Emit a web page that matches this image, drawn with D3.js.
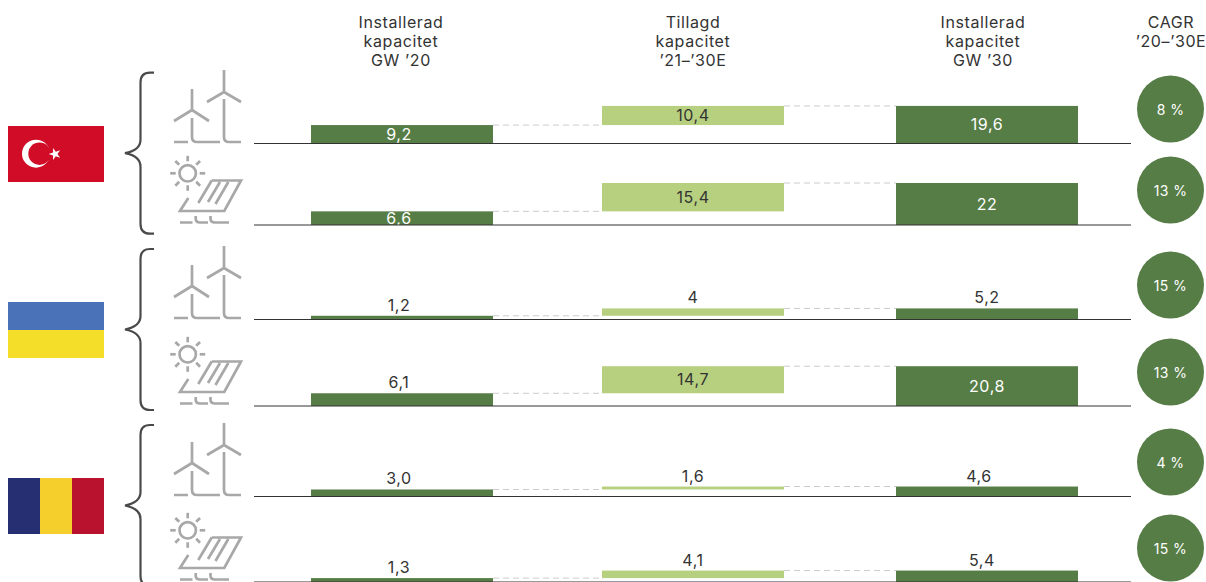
<!DOCTYPE html>
<html>
<head>
<meta charset="utf-8">
<script src="https://cdn.jsdelivr.net/npm/d3@7"></script>
<style>
	html, body { margin: 0; padding: 0; background: #fff; overflow: hidden; }
	svg { display: block; }
	text { font-family: Inter, sans-serif; font-size: 16px; letter-spacing: 0.6px; fill: #333; }
</style>
</head>
<body>
<svg width="1206" height="582"></svg>
<script>
	var countries = ["Turkiet", "Ukraina", "Rumänien"];
	var energy = ["wind", "solar", "wind", "solar", "wind", "solar"];

	var installed20 = [9.2, 6.6, 1.2, 6.1, 3.0, 1.3];
	var added = [10.4, 15.4, 4, 14.7, 1.6, 4.1];
	var installed30 = [19.6, 22, 5.2, 20.8, 4.6, 5.4];
	var cagr = ["8 %", "13 %", "15 %", "13 %", "4 %", "15 %"];

	var label20 = ["9,2", "6,6", "1,2", "6,1", "3,0", "1,3"];
	var labelAdded = ["10,4", "15,4", "4", "14,7", "1,6", "4,1"];
	var label30 = ["19,6", "22", "5,2", "20,8", "4,6", "5,4"];

	var headers = [
		["Installerad", "kapacitet", "GW ’20"],
		["Tillagd", "kapacitet", "’21–’30E"],
		["Installerad", "kapacitet", "GW ’30"],
		["CAGR", "’20–’30E"]
	];

	// layout
	var rowBase = [143.5, 225, 319.5, 406, 496.5, 582];
	var circleY = [109, 190, 285, 372, 462, 548];
	var flagY = [126, 302, 478];
	var braceY = [71.7, 248, 424];
	var headX = [401, 693, 983, 1171];
	var labelX = [399, 693, 987];
	var labelShift = { "4,6": -8, "5,4": -5 };

	var darkGreen = "#567d46", lightGreen = "#b7d080", ink = "#333", iconGrey = "#a8a8a8";

	var svg = d3.select("svg");

	// small offset at zero keeps the thin bars visible, as in the original
	var h = d3.scaleLinear().domain([0, 22]).range([1.5, 42]);
	var col = d3.scaleOrdinal().domain([0, 1, 2]).range([311, 602, 896]);
	var barW = 182;

	// Column headers
	headers.forEach(function(lines, c) {
		svg.append("text")
			.attr("text-anchor", "middle")
			.selectAll("tspan").data(lines).enter().append("tspan")
			.attr("x", headX[c])
			.attr("y", function(d, i) { return 27.5 + i * 19.3; })
			.text(function(d) { return d; });
	});

	// Flags
	var flagW = 96, flagH = 56;
	var flags = svg.selectAll("g.flag").data(countries).enter().append("g")
		.attr("class", "flag")
		.attr("transform", function(d, i) { return "translate(8," + flagY[i] + ")"; });

	var tr = flags.filter(function(d, i) { return i == 0; });
	tr.append("rect").attr("width", flagW).attr("height", flagH).attr("fill", "#d00c27");
	tr.append("circle").attr("cx", 28).attr("cy", 27.7).attr("r", 14).attr("fill", "#fff");
	tr.append("circle").attr("cx", 31.5).attr("cy", 27.7).attr("r", 11.2).attr("fill", "#d00c27");
	tr.append("path").attr("fill", "#fff")
		.attr("transform", "translate(47,28) rotate(-90)")
		.attr("d", d3.symbol().type(d3.symbolStar).size(45));

	var ua = flags.filter(function(d, i) { return i == 1; });
	ua.append("rect").attr("width", flagW).attr("height", flagH / 2).attr("fill", "#4a72b8");
	ua.append("rect").attr("y", flagH / 2).attr("width", flagW).attr("height", flagH / 2).attr("fill", "#f4de2a");

	var ro = flags.filter(function(d, i) { return i == 2; });
	["#252f72", "#f5d02c", "#b8122f"].forEach(function(c, i) {
		ro.append("rect").attr("x", i * flagW / 3).attr("width", flagW / 3).attr("height", flagH).attr("fill", c);
	});

	// Braces
	svg.selectAll("path.brace").data(braceY).enter().append("path")
		.attr("class", "brace")
		.attr("fill", "none")
		.attr("stroke", "#4a4a4a")
		.attr("stroke-width", 2.2)
		.attr("transform", function(d) { return "translate(0," + d + ")"; })
		.attr("d", "M154,1 H150 Q140.5,1 140.5,11 V68 Q140.5,78.5 125,81.5 Q140.5,84.5 140.5,95 V152 Q140.5,162 150,162 H154");

	// Icons, drawn for the first wind and solar row and moved down with the baseline
	var windPath = "M224,70 V92 M224,92 L207,102 M224,92 L241,102 M224,99 V137 Q224,142 229,142 H241"
		+ " M192,89 V110 M192,110 L174,121 M192,110 L209,121 M192,118 V137 Q192,142 197,142 H220 M174,142 H188";
	var solarPath = "M211.7,180.5 H241 L224.3,211 H180 L188.3,198"
		+ " M211.7,180.5 L198.3,203 M220,182 L208,202 M228.3,182 L215.5,204"
		+ " M180,222.5 H192.5 M195.7,216 V218.5 Q195.7,222.5 200,222.5 H208"
		+ " M210.5,216 V218.5 Q210.5,222.5 215,222.5 H229";

	var icons = svg.selectAll("g.icon").data(energy).enter().append("g")
		.attr("class", "icon")
		.attr("fill", "none")
		.attr("stroke", iconGrey)
		.attr("stroke-width", 2.7)
		.attr("transform", function(d, i) {
			return "translate(0," + (rowBase[i] - (d == "wind" ? 143.5 : 225)) + ")";
		});
	icons.append("path").attr("d", function(d) { return d == "wind" ? windPath : solarPath; });

	var suns = icons.filter(function(d) { return d == "solar"; });
	suns.append("circle").attr("cx", 187.7).attr("cy", 173.3).attr("r", 8.2);
	suns.selectAll("line").data(d3.range(8)).enter().append("line")
		.attr("x1", function(a) { return 187.7 + 12 * Math.cos(a * Math.PI / 4); })
		.attr("y1", function(a) { return 173.3 + 12 * Math.sin(a * Math.PI / 4); })
		.attr("x2", function(a) { return 187.7 + 17.5 * Math.cos(a * Math.PI / 4); })
		.attr("y2", function(a) { return 173.3 + 17.5 * Math.sin(a * Math.PI / 4); });

	// Bars per row
	var rows = svg.selectAll("g.row").data(installed20).enter().append("g")
		.attr("class", "row")
		.attr("transform", function(d, i) { return "translate(0," + rowBase[i] + ")"; });

	rows.each(function(d, i) {
		var g = d3.select(this);
		var bars = [
			{ c: 0, from: null, to: installed20[i], fill: darkGreen, text: "#fff", label: label20[i] },
			{ c: 1, from: installed20[i], to: installed20[i] + added[i], fill: lightGreen, text: ink, label: labelAdded[i] },
			{ c: 2, from: null, to: installed30[i], fill: darkGreen, text: "#fff", label: label30[i] }
		];

		// dashed connectors
		g.append("line")
			.attr("x1", col(0) + barW).attr("x2", col(1))
			.attr("y1", -h(installed20[i])).attr("y2", -h(installed20[i]))
			.attr("stroke", "#ccc").attr("stroke-dasharray", "6 4");
		g.append("line")
			.attr("x1", col(1) + barW).attr("x2", col(2))
			.attr("y1", -h(installed30[i])).attr("y2", -h(installed30[i]))
			.attr("stroke", "#ccc").attr("stroke-dasharray", "6 4");

		bars.forEach(function(b) {
			var top = -h(b.to), bottom = b.from === null ? 0 : -h(b.from);
			g.append("rect")
				.attr("x", col(b.c)).attr("y", top)
				.attr("width", barW).attr("height", bottom - top)
				.attr("fill", b.fill);
			var inside = bottom - top >= 13;
			g.append("text")
				.attr("x", labelX[b.c] + (b.c == 2 && labelShift[b.label] ? labelShift[b.label] : 0))
				.attr("y", inside ? (top + bottom) / 2 + 5.5 : top - 5)
				.attr("text-anchor", "middle")
				.style("fill", inside ? b.text : ink)
				.text(b.label);
		});

		g.append("line")
			.attr("x1", 254).attr("x2", 1131)
			.attr("stroke", "#333").attr("stroke-width", 1);
	});

	// CAGR circles
	var circles = svg.selectAll("g.cagr").data(cagr).enter().append("g")
		.attr("class", "cagr")
		.attr("transform", function(d, i) { return "translate(1170.5," + circleY[i] + ")"; });
	circles.append("circle").attr("r", 33.5).attr("fill", darkGreen);
	circles.append("text")
		.attr("text-anchor", "middle").attr("y", 5.5)
		.style("fill", "#fff").style("font-size", "14px").style("letter-spacing", "0.4px")
		.text(function(d) { return d; });
</script>
</body>
</html>
